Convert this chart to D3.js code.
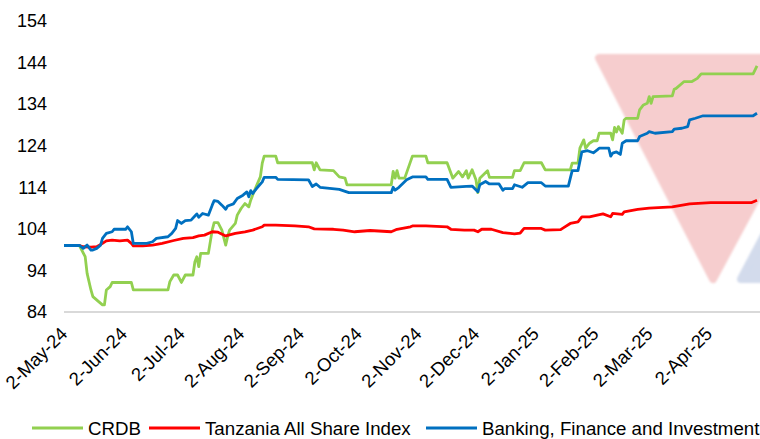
<!DOCTYPE html>
<html>
<head>
<meta charset="utf-8">
<script src="https://cdn.jsdelivr.net/npm/d3@7"></script>
<style>
  body { margin: 0; background: #fff; }
  svg { font-family: "Liberation Sans", Arial, sans-serif; }
</style>
</head>
<body>
<div id="chart"></div>
<script>
// days counted from 2-May-24
var startDate = new Date(2024, 4, 2);

var crdbDays = [0,8,11,12,14,15,18,20,21,22,24,25,35,36,54,55,57,59,61,63,67,68,69,70,71,75,77,78,80,82,84,85,86,89,90,92,94,96,97,99,102,103,104,110,111,129,130,131,133,140,143,146,147,170,171,172,173,174,177,181,188,189,199,202,205,207,209,210,212,214,215,216,220,221,233,234,237,239,248,250,263,264,267,268,270,271,273,275,277,278,284,285,286,287,288,290,291,292,298,299,301,303,304,305,306,316,317,318,322,326,329,331,358,360];
var crdbValues = [100,100,97.3,93.3,89.3,87.7,86.5,85.7,85.7,89.3,90.1,91.1,91.1,89.3,89.3,91.3,92.9,92.9,91.1,92.9,92.9,96.1,97.3,94.9,98.1,98.1,103.7,105.5,105.5,103.7,100.1,102.1,103.7,105.3,107.3,108.9,110.1,109.3,110.9,113.3,116.5,119.8,121.5,121.5,119.9,119.9,118.2,119.9,118.2,118.0,116.5,116.2,114.6,114.6,117.8,116.2,118,116.2,116.2,121.5,121.5,119.9,119.9,116.2,117.8,116.5,118.0,116.2,118.2,115.8,112.7,116.2,118,116.4,116.4,118,118,119.9,119.9,118.2,118.2,119.8,119.8,123.4,125.4,123.4,124.6,125.2,125.2,127.0,127.0,125.4,128.4,127.3,128.6,127,130.2,130.6,130.6,132.6,133.8,134.2,135.8,134.2,135.8,136.0,137.6,137.8,139.4,139.4,140.2,141.3,141.3,143.2];

var tasiDays = [0,8,10,14,17,20,22,25,29,33,35,36,41,46,51,57,62,67,70,73,77,80,84,89,94,98,103,104,110,120,127,130,140,145,151,159,170,173,180,181,188,199,201,208,213,215,217,222,228,234,237,239,248,250,258,260,263,267,269,273,277,280,284,285,290,291,298,304,316,325,336,357,360];
var tasiValues = [100,100,99.7,99.6,99.7,100.5,101.1,101.3,101.1,101.3,100.5,99.9,99.9,100.1,100.5,101.2,101.7,101.9,102.3,102.5,103.3,103.2,102.3,102.9,103.3,103.7,104.5,104.9,104.9,104.7,104.5,104.0,103.9,103.7,103.3,103.6,103.3,103.9,104.5,104.7,104.7,104.5,103.9,103.7,103.7,103.3,103.9,103.9,103.1,102.8,103.0,104.1,104.1,103.7,103.8,104.4,105.3,105.7,106.9,106.9,107.3,107.6,106.9,107.7,107.5,108.1,108.7,109.0,109.3,110.0,110.3,110.3,110.9];

var bankDays = [0,8,10,12,14,15,17,19,20,22,25,26,32,33,35,36,43,46,48,54,56,58,59,61,63,66,68,69,70,72,75,77,78,80,82,84,85,88,90,93,95,96,97,98,100,103,104,110,111,127,129,131,133,143,148,170,171,172,174,178,181,188,189,199,201,209,212,215,216,219,221,226,228,229,233,234,238,241,248,250,262,264,267,269,272,275,277,278,283,284,285,287,289,290,292,298,299,303,304,307,316,317,321,324,325,328,332,358,360];
var bankValues = [100,100,99.3,100.1,98.9,98.9,99.3,100.1,101.7,102.9,103.3,103.9,103.9,104.5,103.3,100.5,100.5,100.9,101.7,102.1,102.9,104.1,106.0,105.3,106.0,106.1,107.1,107.6,106.8,107.7,107.3,109.7,110.8,110.6,109.7,108.7,109.5,110.0,111.3,112.1,112.9,111.7,113.2,112.5,113.7,115.3,116.4,116.4,115.9,115.8,114.2,114.8,114.0,113.5,112.7,112.7,114,113.3,114,115.8,116.5,116.5,115.9,115.9,114,114.2,114.3,112.9,114.6,115.4,114.8,114.8,113.3,113.7,113.7,114.6,114,115.1,115.1,114.3,114.3,118,118,122.5,122.8,122.3,123,123.4,123.4,121.5,122.2,122.5,121.9,124.6,125.2,125.2,126.2,127.0,127.4,127.0,127.4,128.0,128.2,128.6,130.2,130.6,131.2,131.2,131.8];

var seriesNames = ['CRDB', 'Tanzania All Share Index', 'Banking, Finance and Investment'];
var seriesColors = ['#92d050', '#ff0000', '#0070c0'];

var xTickLabels = ['2-May-24','2-Jun-24','2-Jul-24','2-Aug-24','2-Sep-24','2-Oct-24','2-Nov-24','2-Dec-24','2-Jan-25','2-Feb-25','2-Mar-25','2-Apr-25'];
var yTicks = [84, 94, 104, 114, 124, 134, 144, 154];

var width = 760, height = 439;

var svg = d3.select('#chart').append('svg')
    .attr('width', width)
    .attr('height', height);

var parseTick = d3.timeParse('%-d-%b-%y');
var endDate = d3.timeDay.offset(startDate, 360);

var x = d3.scaleTime().domain([startDate, endDate]).range([64, 757]);
var y = d3.scaleLinear().domain([84, 154]).range([312, 21]);

// watermark triangles behind the plot
var defs = svg.append('defs');
defs.append('filter').attr('id', 'soft')
    .append('feGaussianBlur').attr('stdDeviation', 0.8);

var wm = svg.append('g').attr('filter', 'url(#soft)');
wm.append('path')
    .attr('d', 'M599,58 L832,58 L713,279 Z')
    .attr('fill', '#f6cdce')
    .attr('stroke', '#f6cdce')
    .attr('stroke-width', 8)
    .attr('stroke-linejoin', 'round');
wm.append('path')
    .attr('d', 'M741,279 L858,58 L975,279 Z')
    .attr('fill', '#d3dbec')
    .attr('stroke', '#d3dbec')
    .attr('stroke-width', 8)
    .attr('stroke-linejoin', 'round');

// baseline
svg.append('line')
    .attr('x1', x.range()[0]).attr('x2', width)
    .attr('y1', y(84)).attr('y2', y(84))
    .attr('stroke', '#d9d9d9')
    .attr('stroke-width', 2);

// y axis
var yAxis = svg.append('g')
    .attr('transform', 'translate(47,0)')
    .call(d3.axisLeft(y).tickValues(yTicks).tickSize(0).tickPadding(0));
yAxis.select('.domain').remove();
yAxis.selectAll('text')
    .attr('fill', '#000')
    .style('font-size', '18px')
    .style('font-family', '"Liberation Sans", Arial, sans-serif');

// x axis
var xAxis = svg.append('g')
    .attr('transform', 'translate(0,' + y(84) + ')')
    .call(d3.axisBottom(x)
        .tickValues(xTickLabels.map(parseTick))
        .tickFormat(d3.timeFormat('%-d-%b-%y'))
        .tickSize(0));
xAxis.select('.domain').remove();
xAxis.selectAll('text')
    .attr('fill', '#000')
    .attr('x', 0).attr('y', 0).attr('dy', 0)
    .attr('text-anchor', 'end')
    .attr('transform', 'translate(4,23) rotate(-45)')
    .style('font-size', '18.5px')
    .style('font-family', '"Liberation Sans", Arial, sans-serif');

// lines
var line = d3.line()
    .x(function (d) { return x(d.date); })
    .y(function (d) { return y(d.value); });

function toPoints(days, values) {
    return days.map(function (d, i) {
        return { date: d3.timeDay.offset(startDate, d), value: values[i] };
    });
}

var series = [
    toPoints(crdbDays, crdbValues),
    toPoints(tasiDays, tasiValues),
    toPoints(bankDays, bankValues)
];

svg.selectAll('.series')
    .data(series)
    .enter().append('path')
    .attr('class', 'series')
    .attr('d', line)
    .attr('fill', 'none')
    .attr('stroke', function (d, i) { return seriesColors[i]; })
    .attr('stroke-width', 2.8)
    .attr('stroke-linejoin', 'round');

// legend
var legendX = [32, 149, 426];
var legend = svg.append('g').attr('transform', 'translate(0,428)');
seriesNames.forEach(function (name, i) {
    var lx = legendX[i];
    legend.append('line')
        .attr('x1', lx).attr('x2', lx + 51)
        .attr('y1', 0).attr('y2', 0)
        .attr('stroke', seriesColors[i])
        .attr('stroke-width', 3);
    legend.append('text')
        .attr('x', lx + 56)
        .attr('y', 0)
        .attr('dy', '0.35em')
        .style('font-size', '18.7px')
        .attr('fill', '#000')
        .text(name);
});
</script>
</body>
</html>
